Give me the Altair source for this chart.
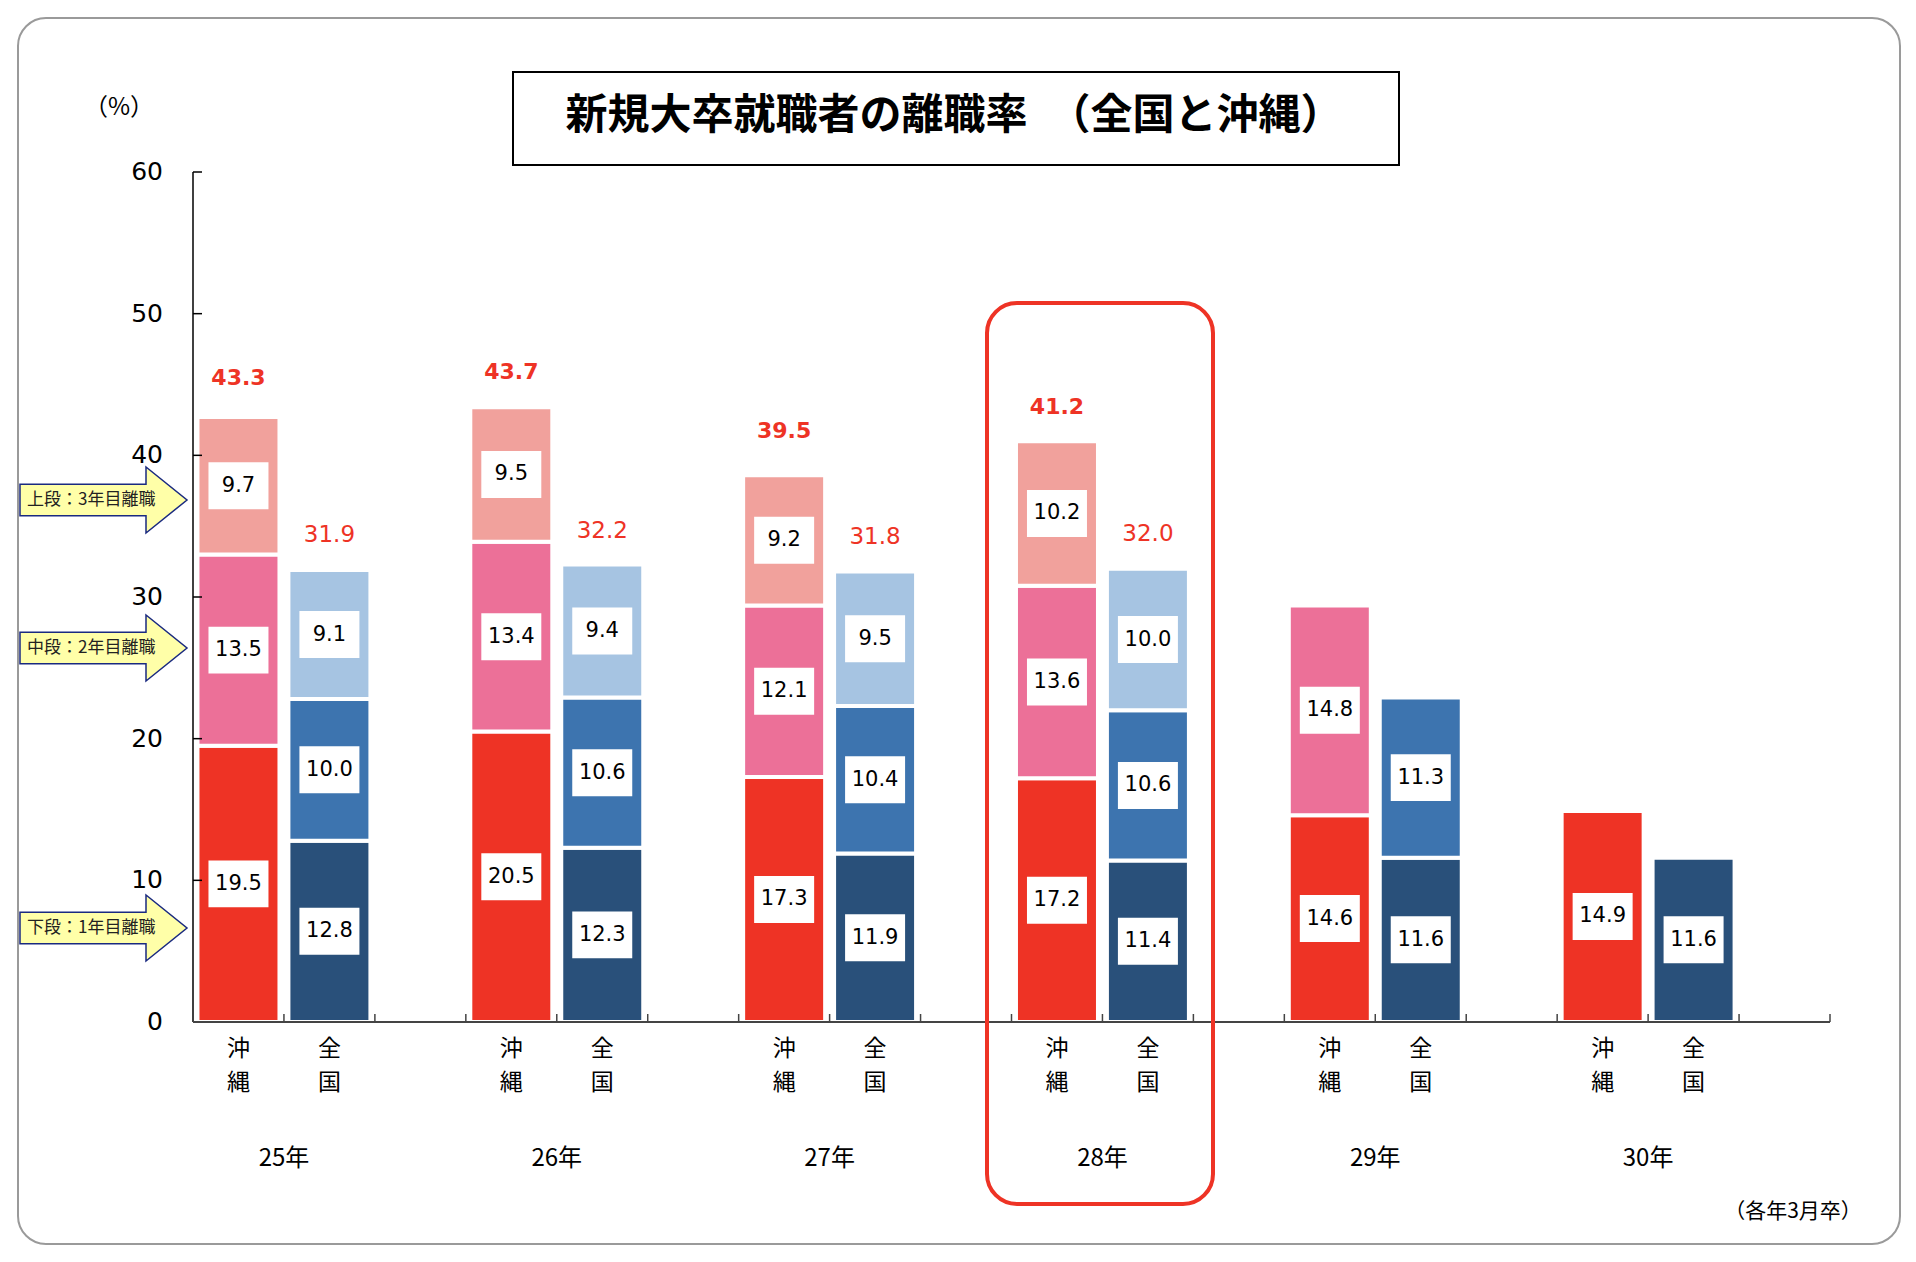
import altair as alt
import pandas as pd

# ---------------- data ----------------
years = ["25年", "26年", "27年", "28年", "29年", "30年"]
yr_keys = ["25", "26", "27", "28", "29", "30"]

okinawa_y1 = [19.5, 20.5, 17.3, 17.2, 14.6, 14.9]
okinawa_y2 = [13.5, 13.4, 12.1, 13.6, 14.8, None]
okinawa_y3 = [9.7, 9.5, 9.2, 10.2, None, None]
zenkoku_y1 = [12.8, 12.3, 11.9, 11.4, 11.6, 11.6]
zenkoku_y2 = [10.0, 10.6, 10.4, 10.6, 11.3, None]
zenkoku_y3 = [9.1, 9.4, 9.5, 10.0, None, None]
okinawa_total = [43.3, 43.7, 39.5, 41.2, None, None]
zenkoku_total = [31.9, 32.2, 31.8, 32.0, None, None]

region_labels = {"沖縄": "沖\n縄", "全国": "全\n国"}
seg_keys = ["沖縄1", "沖縄2", "沖縄3", "全国1", "全国2", "全国3"]
seg_colors = ["#EE3325", "#EC7098", "#F1A19C", "#29507A", "#3D74AF", "#A6C4E2"]
y_ticks = [0, 10, 20, 30, 40, 50, 60]

# ---------------- tables ----------------
cats = []
for y in yr_keys:
    cats += [f"{y}_沖縄", f"{y}_全国", f"{y}_gap"]

seg_rows = []
for i, y in enumerate(yr_keys):
    for reg, stages in (("沖縄", [okinawa_y1[i], okinawa_y2[i], okinawa_y3[i]]),
                        ("全国", [zenkoku_y1[i], zenkoku_y2[i], zenkoku_y3[i]])):
        base = 0.0
        for s, v in enumerate(stages, 1):
            if v is None:
                continue
            seg_rows.append(dict(cat=f"{y}_{reg}", key=f"{reg}{s}", start=base,
                                 end=base + v, mid=base + v / 2, value=v))
            base += v
seg = pd.DataFrame(seg_rows)

tot_ok = pd.DataFrame([dict(cat=f"{y}_沖縄", total=t) for y, t in zip(yr_keys, okinawa_total) if t is not None])
tot_zk = pd.DataFrame([dict(cat=f"{y}_全国", total=t) for y, t in zip(yr_keys, zenkoku_total) if t is not None])
xlab = pd.DataFrame([dict(cat=f"{y}_{r}", label=region_labels[r]) for y in yr_keys for r in ("沖縄", "全国")])
ylab = pd.DataFrame([dict(cat=f"{y}_全国", year=n) for y, n in zip(yr_keys, years)])
tick_df = pd.DataFrame({"cat": cats})
ytick_df = pd.DataFrame({"v": y_ticks})
ydom_df = pd.DataFrame({"lo": [y_ticks[0]], "hi": [y_ticks[-1]]})
xdom_df = pd.DataFrame({"v": [0]})
one = pd.DataFrame({"k": [0]})

XS = alt.Scale(domain=cats, paddingInner=0, paddingOuter=0)
YS = alt.Scale(domain=[0, 60], nice=False)
JP = "Noto Sans CJK JP"
NUM = "DejaVu Sans"
RED = "#EE3325"
PW, PH = 1637, 850


def X(**kw):
    return alt.X("cat:N", scale=XS, axis=None, **kw)


# ---------------- layers ----------------
border = alt.Chart(one).mark_rect(fill="transparent", stroke="#9A9A9A", strokeWidth=2, cornerRadius=28).encode(
    x=alt.value(-175), x2=alt.value(1707), y=alt.value(-154), y2=alt.value(1072))

title_box = alt.Chart(one).mark_rect(fill="white", stroke="black", strokeWidth=2).encode(
    x=alt.value(320), x2=alt.value(1206), y=alt.value(-100), y2=alt.value(-7))
title = alt.Chart(one).mark_text(text="新規大卒就職者の離職率　（全国と沖縄）", font=JP, fontWeight="bold",
                                 fontSize=42, align="center", baseline="middle", color="black").encode(
    x=alt.value(761), y=alt.value(-56))

pct = alt.Chart(one).mark_text(text="（%）", font=JP, fontSize=24, align="center", baseline="middle",
                               color="black").encode(x=alt.value(-74), y=alt.value(-64))
note = alt.Chart(one).mark_text(text="（各年3月卒）", font=JP, fontSize=21, align="center", baseline="middle",
                                color="black").encode(x=alt.value(1600), y=alt.value(1040))

ARROW = "M-1,-0.19L0.509,-0.19L0.509,-0.395L1,0L0.509,0.395L0.509,0.19L-1,0.19Z"
arrow_layers = []
for lab, py in (("上段：3年目離職", 328), ("中段：2年目離職", 476), ("下段：1年目離職", 756)):
    arrow_layers.append(alt.Chart(one).mark_point(shape=ARROW, size=167 * 167, filled=True, fill="#FFFFA8",
                                                  stroke="#1A2A80", strokeWidth=1.5, opacity=1).encode(
        x=alt.value(-89.5), y=alt.value(py)))
    arrow_layers.append(alt.Chart(one).mark_text(text=lab, font=JP, fontSize=17, align="left",
                                                 baseline="middle", color="#222").encode(
        x=alt.value(-166), y=alt.value(py)))

bars = alt.Chart(seg).mark_bar(width=82, stroke="white", strokeWidth=4).encode(
    x=X(),
    y=alt.Y("end:Q", scale=YS, axis=None),
    y2="start:Q",
    color=alt.Color("key:N", scale=alt.Scale(domain=seg_keys, range=seg_colors), legend=None),
)

BOX = "M-1,-0.783L1,-0.783L1,0.783L-1,0.783Z"
boxes = alt.Chart(seg).mark_point(shape=BOX, size=3600, filled=True, fill="white", opacity=1,
                                  strokeWidth=0).encode(
    x=X(), y=alt.Y("mid:Q", scale=YS, axis=None))
seg_text = alt.Chart(seg).mark_text(font=NUM, fontSize=21, color="black", align="center",
                                    baseline="middle").encode(
    x=X(), y=alt.Y("mid:Q", scale=YS, axis=None),
    text=alt.Text("value:Q", format=".1f"))

tot1 = alt.Chart(tot_ok).mark_text(font=NUM, fontWeight="bold", fontSize=22, color=RED, dy=-31,
                                   align="center", baseline="middle").encode(
    x=X(), y=alt.Y("total:Q", scale=YS, axis=None),
    text=alt.Text("total:Q", format=".1f"))
tot2 = alt.Chart(tot_zk).mark_text(font=NUM, fontSize=23, color=RED, dy=-35,
                                   align="center", baseline="middle").encode(
    x=X(), y=alt.Y("total:Q", scale=YS, axis=None),
    text=alt.Text("total:Q", format=".1f"))

xlabels = alt.Chart(xlab).mark_text(font=JP, fontSize=23, lineHeight=34, baseline="top", align="center",
                                    lineBreak="\n", color="black").encode(
    x=X(), y=alt.value(866), text="label:N")
yearlabels = alt.Chart(ylab).mark_text(font=JP, fontSize=24, align="center", baseline="middle",
                                       color="black").encode(
    x=X(bandPosition=0), y=alt.value(987), text="year:N")

# axes drawn by hand (ticks point inward as in the reference)
ydomain = alt.Chart(ydom_df).mark_rule(color="black", strokeWidth=1.5).encode(
    x=alt.value(0), y=alt.Y("hi:Q", scale=YS, axis=None), y2="lo:Q")
ylabels = alt.Chart(ytick_df).mark_text(font=NUM, fontSize=25, align="right", baseline="middle",
                                        color="black").encode(
    x=alt.value(-30), y=alt.Y("v:Q", scale=YS, axis=None), text="v:Q")
yticks = alt.Chart(ytick_df).mark_rule(color="black", strokeWidth=1.5).encode(
    y=alt.Y("v:Q", scale=YS, axis=None), x=alt.value(0), x2=alt.value(9))
xdomain = alt.Chart(xdom_df).mark_rule(color="#444", strokeWidth=2).encode(
    y=alt.Y("v:Q", scale=YS, axis=None), x=alt.value(0), x2=alt.value(PW))
xticks = alt.Chart(tick_df).mark_rule(color="#444", strokeWidth=1.5).encode(
    x=X(bandPosition=1), y=alt.value(PH - 8), y2=alt.value(PH))

red_box = alt.Chart(one).mark_rect(fill="transparent", stroke=RED, strokeWidth=4, cornerRadius=30).encode(
    x=alt.value(794), x2=alt.value(1020), y=alt.value(131), y2=alt.value(1032))

chart = alt.layer(
    border, title_box, title, pct, note, *arrow_layers,
    bars, boxes, seg_text, tot1, tot2, xlabels, yearlabels,
    ydomain, ylabels, yticks, xdomain, xticks, red_box,
).properties(
    width=PW, height=PH,
    padding={"left": 185, "top": 164, "right": 78, "bottom": 232},
    autosize=alt.AutoSizeParams(type="none"),
    background="white",
).configure_view(strokeWidth=0)

chart.save("out.html", embed_options={"renderer": "svg", "actions": False})
